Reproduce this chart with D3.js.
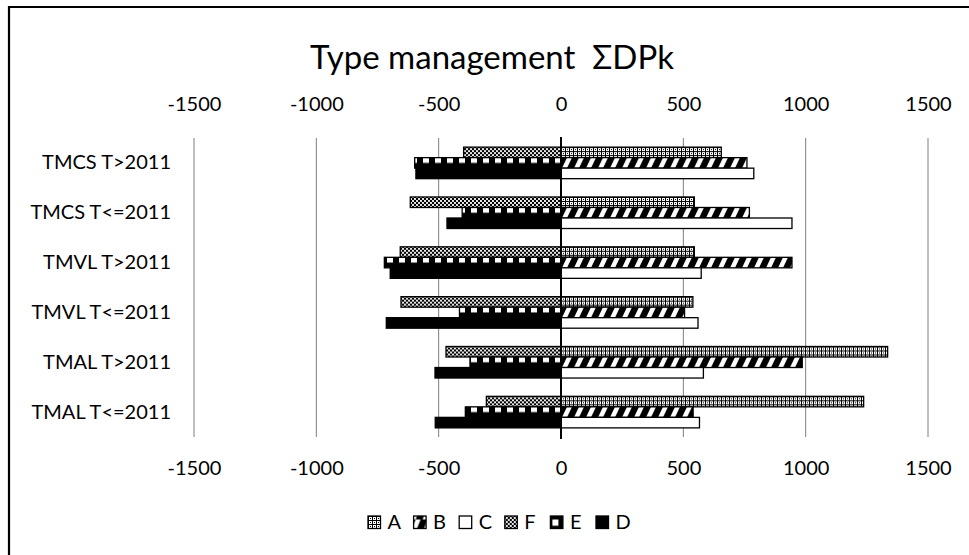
<!DOCTYPE html>
<html><head><meta charset="utf-8">
<script src="https://cdn.jsdelivr.net/npm/d3@7"></script>
<style>
body{margin:0;background:#fff}
svg{display:block}
text{font-family:Lato,"Open Sans",sans-serif;fill:#000}
</style>
</head><body>
<svg id="c" width="969" height="555"></svg>
<script>
const categories = ["TMCS T>2011","TMCS T<=2011","TMVL T>2011","TMVL T<=2011","TMAL T>2011","TMAL T<=2011"];
const seriesNames = ["A","B","C","F","E","D"];
const valuesA = [655, 545, 545, 539, 1335, 1237];
const valuesB = [760, 770, 944, 505, 986, 540];
const valuesC = [788, 944, 573, 560, 582, 566];
const valuesF = [-398, -616, -657, -654, -470, -305];
const valuesE = [-598, -404, -722, -415, -372, -391];
const valuesD = [-593, -466, -698, -714, -515, -514];
const tickValues = [-1500, -1000, -500, 0, 500, 1000, 1500];
const titleText = "Type management  \u03A3DPk";

const seriesValues = {A: valuesA, B: valuesB, C: valuesC, F: valuesF, E: valuesE, D: valuesD};
const seriesRow = {A: 0, B: 1, C: 2, F: 0, E: 1, D: 2};

const W = 969, H = 555;
const svg = d3.select("#c");
svg.append("rect").attr("width", W).attr("height", H).attr("fill", "#fff");
const defs = svg.append("defs");

const x = d3.scaleLinear().domain([-1500, 1500]).range([194, 928]);
const y = d3.scaleBand().domain(categories).range([138, 437]).paddingInner(0.367).paddingOuter(0.183);
const row = d3.scaleBand().domain([0, 1, 2]).range([0, y.bandwidth()]);

let pid = 0;
function pattern(type, ox, oy, h) {
  const id = "p" + (pid++);
  const p = defs.append("pattern").attr("id", id).attr("patternUnits", "userSpaceOnUse").attr("x", ox).attr("y", oy);
  if (type === "A") {
    p.attr("width", 4).attr("height", 4);
    p.append("rect").attr("width", 4).attr("height", 4).attr("fill", "#fff");
    p.append("rect").attr("width", 4).attr("height", 1).attr("fill", "#000");
    p.append("rect").attr("width", 1).attr("height", 4).attr("fill", "#000");
    p.append("rect").attr("x", 2).attr("y", 2).attr("width", 1).attr("height", 1).attr("fill", "#000");
  } else if (type === "F") {
    p.attr("width", 4).attr("height", 4);
    p.append("rect").attr("width", 4).attr("height", 4).attr("fill", "#000");
    p.append("path").attr("d", "M0,0L4,4M4,0L0,4").attr("stroke", "#fff").attr("stroke-width", 0.9);
  } else if (type === "B") {
    p.attr("width", 12).attr("height", h);
    p.append("rect").attr("width", 12).attr("height", h).attr("fill", "#000");
    p.append("path").attr("d", `M1,${h}L6,${h}L11,0L6,0Z`).attr("fill", "#fff");
  } else if (type === "E") {
    p.attr("width", 12).attr("height", h);
    p.append("rect").attr("width", 12).attr("height", h).attr("fill", "#000");
    p.append("rect").attr("x", 6).attr("y", 0).attr("width", 6).attr("height", h / 2).attr("fill", "#fff");
  }
  return "url(#" + id + ")";
}
function fillFor(name, ox, oy, h) {
  if (name === "C") return "#fff";
  if (name === "D") return "#000";
  return pattern(name, ox, oy, h);
}

// frame (left and top edges visible)
svg.append("path").attr("d", `M9,${H + 5}L9,7L${W + 5},7`).attr("fill", "none").attr("stroke", "#000").attr("stroke-width", 2.2);

// title
svg.append("text").attr("x", 492).attr("y", 69).attr("text-anchor", "middle")
  .attr("font-size", 33).style("white-space", "pre").attr("xml:space", "preserve").text(titleText);

// gridlines
svg.append("g").selectAll("line").data(tickValues.filter(d => d !== 0)).join("line")
  .attr("x1", d => x(d)).attr("x2", d => x(d)).attr("y1", 138).attr("y2", 437)
  .attr("stroke", "#7f7f7f").attr("stroke-width", 1);

// axes labels
const fmt = d => String(d);
const axTop = svg.append("g").attr("transform", "translate(0,111)")
  .call(d3.axisTop(x).tickValues(tickValues).tickSize(0).tickPadding(0).tickFormat(fmt));
const axBot = svg.append("g").attr("transform", "translate(0,461)")
  .call(d3.axisBottom(x).tickValues(tickValues).tickSize(0).tickPadding(0).tickFormat(fmt));
[axTop, axBot].forEach(a => {
  a.select(".domain").remove();
  a.selectAll("text").attr("font-size", 20).attr("font-family", "Lato").attr("fill", "#000");
});
axTop.selectAll("text").attr("dy", 0);
axBot.selectAll("text").attr("dy", "0.71em");

// category labels
const axLeft = svg.append("g").attr("transform", "translate(171,0)")
  .call(d3.axisLeft(y).tickSize(0).tickPadding(0));
axLeft.select(".domain").remove();
axLeft.selectAll("text").attr("font-size", 20).attr("font-family", "Lato").attr("fill", "#000");

// bars
const barData = [];
seriesNames.forEach(s => {
  seriesValues[s].forEach((v, i) => barData.push({s, cat: categories[i], v}));
});
const bh = row.bandwidth();
svg.append("g").selectAll("rect").data(barData).join("rect")
  .attr("x", d => Math.min(x(0), x(d.v)))
  .attr("y", d => y(d.cat) + row(seriesRow[d.s]))
  .attr("width", d => Math.abs(x(d.v) - x(0)))
  .attr("height", bh)
  .attr("fill", d => fillFor(d.s, x(0), y(d.cat) + row(seriesRow[d.s]), bh))
  .attr("stroke", "#000").attr("stroke-width", 1.3);

// zero axis line
svg.append("line").attr("x1", x(0)).attr("x2", x(0)).attr("y1", 137).attr("y2", 439)
  .attr("stroke", "#000").attr("stroke-width", 2);

// legend
const leg = svg.append("g").attr("transform", "translate(368,516)");
seriesNames.forEach((s, i) => {
  const gx = i * 45.6;
  leg.append("rect").attr("x", gx).attr("y", 0).attr("width", 12.5).attr("height", 12.5)
    .attr("fill", fillFor(s, 368 + gx, 516, 12.5)).attr("stroke", "#000").attr("stroke-width", 1.3);
  leg.append("text").attr("x", gx + 19.5).attr("y", 13).attr("font-size", 20).text(s);
});
</script>
</body></html>
